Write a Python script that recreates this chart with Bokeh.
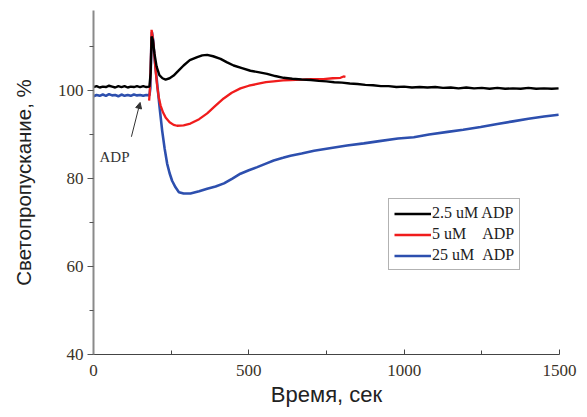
from bokeh.plotting import figure
from bokeh.models import (Range1d, FixedTicker, Legend, LegendItem, Arrow,
                          NormalHead, Label)
from bokeh.embed import file_html
from bokeh.resources import INLINE

# ---- data ----
black_t = [0, 10, 20, 30, 40, 50, 60, 70, 80, 90, 100, 110, 120, 130, 140, 150, 160, 170, 180,
           184, 187, 191, 196, 203, 212, 222, 232, 245, 258, 272, 290, 310, 334, 350, 366,
           385, 409, 430, 451, 478, 505, 530, 559, 585, 612, 640, 670, 700, 725, 750, 775,
           800, 825, 850, 875, 900, 925, 950, 975, 1000, 1025, 1050, 1075, 1100, 1125, 1150,
           1175, 1200, 1225, 1250, 1275, 1300, 1325, 1350, 1375, 1400, 1425, 1450, 1475, 1497]
black_v = [100.8, 101.0, 100.7, 100.9, 100.8, 101.1, 100.9, 100.7, 101.0, 100.8, 101.0, 100.7,
           100.9, 100.8, 101.0, 100.8, 101.0, 100.8, 100.9,
           104.0, 112.3, 111.5, 108.5, 105.5, 103.5, 102.8, 102.5, 102.8, 103.4, 104.4, 105.7,
           106.9, 107.6, 108.0, 108.1, 107.8, 107.2, 106.4, 105.7, 105.1, 104.5, 104.2, 103.8,
           103.3, 102.9, 102.7, 102.5, 102.4, 102.2, 102.1, 101.9, 101.8, 101.6, 101.5, 101.3,
           101.2, 101.0, 101.0, 100.8, 100.9, 100.7, 100.8, 100.7, 100.8, 100.6, 100.7, 100.5,
           100.7, 100.5, 100.6, 100.4, 100.6, 100.4, 100.5, 100.4, 100.6, 100.4, 100.5, 100.4, 100.5]

red_t = [179, 181, 184, 187, 190, 194, 200, 205, 210, 216, 224, 232, 245, 258, 269, 290, 312,
         340, 366, 392, 419, 445, 473, 500, 527, 555, 580, 610, 634, 670, 700, 740, 770, 795,
         805, 811]
red_v = [97.7, 99.5, 105.0, 113.8, 112.5, 109.8, 104.5, 101.0, 98.5, 96.6, 95.0, 93.9, 92.8,
         92.2, 92.0, 92.1, 92.5, 93.5, 94.8, 96.5, 98.2, 99.5, 100.5, 101.1, 101.5, 101.9,
         102.1, 102.3, 102.4, 102.5, 102.6, 102.6, 102.8, 102.9, 103.2, 103.1]

blue_t = [0, 10, 20, 30, 40, 50, 60, 70, 80, 90, 100, 110, 120, 130, 140, 150, 160, 170, 180,
          183, 186, 188, 192, 197, 205, 213, 221, 229, 237, 245, 253, 264, 275, 290, 312, 340,
          366, 393, 420, 447, 473, 500, 527, 555, 580, 610, 634, 670, 710, 760, 816, 870, 920,
          980, 1031, 1080, 1140, 1190, 1246, 1300, 1350, 1400, 1450, 1497]
blue_v = [98.7, 99.0, 98.8, 99.1, 98.8, 99.2, 98.9, 99.0, 98.7, 99.1, 98.8, 99.0, 98.8, 99.1,
          98.9, 99.0, 98.8, 99.0, 98.9,
          100.5, 110.0, 113.3, 111.5, 107.0, 101.6, 96.0, 90.9, 86.8, 83.4, 81.2, 79.5, 78.0,
          76.9, 76.6, 76.6, 77.1, 77.7, 78.2, 78.9, 80.0, 81.1, 81.9, 82.6, 83.4, 84.1, 84.7,
          85.2, 85.7, 86.3, 86.9, 87.5, 88.0, 88.5, 89.1, 89.4, 90.0, 90.6, 91.1, 91.7, 92.4,
          93.0, 93.6, 94.1, 94.5]

legend_labels = ["2.5 uM ADP", "5 uM\u00a0\u00a0\u00a0\u00a0ADP", "25 uM\u00a0\u00a0ADP"]
x_ticks = [0, 500, 1000, 1500]
x_minor = [250, 750, 1250]
y_ticks = [40, 60, 80, 100]
y_minor = [50, 70, 90, 110]

# ---- figure ----
p = figure(width=585, height=415, output_backend="svg", toolbar_location=None,
           x_range=Range1d(0, 1500), y_range=Range1d(40, 118.2),
           min_border_left=93, min_border_right=26, min_border_top=10, min_border_bottom=61)
p.outline_line_color = None
p.grid.visible = False
p.background_fill_color = "white"
p.border_fill_color = "white"

r_blue = p.line(blue_t, blue_v, color="#2d4fae", line_width=2.6)
r_red = p.line(red_t, red_v, color="#f01c1c", line_width=2.3)
r_black = p.line(black_t, black_v, color="#000000", line_width=2.4)

serif = "Liberation Serif"
sans = "Liberation Sans"

xa = p.xaxis[0]
xa.ticker = FixedTicker(ticks=x_ticks, minor_ticks=x_minor)
xa.axis_line_color = "#444444"
xa.axis_line_width = 1.2
xa.major_tick_in = 5
xa.major_tick_out = 0
xa.minor_tick_in = 4
xa.minor_tick_out = 0
xa.major_tick_line_color = "#444444"
xa.minor_tick_line_color = "#444444"
xa.major_label_text_font = serif
xa.major_label_text_font_size = "17px"
xa.major_label_text_color = "#3a3328"
xa.major_label_standoff = 10
xa.axis_label = "Время, сек"
xa.axis_label_text_font = sans
xa.axis_label_text_font_size = "22px"
xa.axis_label_text_font_style = "normal"
xa.axis_label_text_color = "#222222"
xa.axis_label_standoff = 3

ya = p.yaxis[0]
ya.ticker = FixedTicker(ticks=y_ticks, minor_ticks=y_minor)
ya.axis_line_color = "#8a8a8a"
ya.axis_line_width = 2
ya.major_tick_in = 0
ya.major_tick_out = 6
ya.minor_tick_in = 0
ya.minor_tick_out = 4
ya.major_tick_line_color = "#555555"
ya.minor_tick_line_color = "#555555"
ya.major_label_text_font = serif
ya.major_label_text_font_size = "17px"
ya.major_label_text_color = "#3a3328"
ya.major_label_standoff = 4
ya.axis_label = "Светопропускание, %"
ya.axis_label_text_font = sans
ya.axis_label_text_font_size = "20.5px"
ya.axis_label_text_font_style = "normal"
ya.axis_label_text_color = "#222222"
ya.axis_label_standoff = 20

# ADP annotation
p.add_layout(Arrow(end=NormalHead(size=6, fill_color="#333333", line_color="#333333"),
                   x_start=122, y_start=89.5, x_end=150, y_end=97.3,
                   line_color="#333333", line_width=1))
p.add_layout(Label(x=67.5, y=85.0, text="ADP", text_font=serif, text_font_size="15px",
                   text_color="#333333", text_align="center", text_baseline="middle"))

legend = Legend(items=[LegendItem(label=legend_labels[0], renderers=[r_black]),
                       LegendItem(label=legend_labels[1], renderers=[r_red]),
                       LegendItem(label=legend_labels[2], renderers=[r_blue])],
                location=(295, 84))
legend.label_text_font = serif
legend.label_text_font_size = "16px"
legend.label_text_color = "#222222"
legend.glyph_width = 37
legend.glyph_height = 17
legend.label_height = 17
legend.label_standoff = 1
legend.spacing = 3
legend.padding = 5
legend.margin = 0
legend.border_line_color = "#666666"
legend.border_line_width = 1.5
legend.background_fill_alpha = 1
p.add_layout(legend)

open("out.html", "w").write(file_html(p, INLINE))
